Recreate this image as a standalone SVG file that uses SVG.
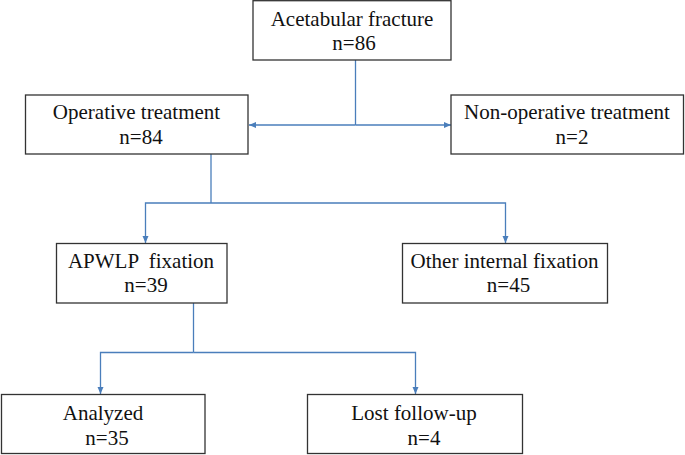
<svg xmlns="http://www.w3.org/2000/svg" width="685" height="455" viewBox="0 0 685 455">
<style>
.box{fill:#fff;stroke:#333;stroke-width:1.3}
.t{font-family:"Liberation Serif","Times New Roman",serif;font-size:21px;fill:#111;text-anchor:middle}
.c{fill:none;stroke:#4a7ebb;stroke-width:1.3}
</style>
<defs>
<marker id="ah" markerUnits="userSpaceOnUse" markerWidth="8" markerHeight="8" refX="7" refY="4" orient="auto">
<path d="M0,1 L7,4 L0,7 Z" fill="#4a7ebb"/>
</marker>
</defs>
<rect width="685" height="455" fill="#fff"/>
<g id="connectors">
<path class="c" d="M355.5,60 V125"/>
<path class="c" d="M355.5,125 H249" marker-end="url(#ah)"/>
<path class="c" d="M355.5,125 H451" marker-end="url(#ah)"/>
<path class="c" d="M211,154 V203"/>
<path class="c" d="M211,203 H145.5 V243" marker-end="url(#ah)"/>
<path class="c" d="M211,203 H505.5 V243" marker-end="url(#ah)"/>
<path class="c" d="M193.5,303 V352.5"/>
<path class="c" d="M193.5,352.5 H100.5 V394" marker-end="url(#ah)"/>
<path class="c" d="M193.5,352.5 H415.5 V394" marker-end="url(#ah)"/>
</g>
<g id="acetabular">
<rect class="box" x="253" y="0.7" width="198" height="59.3"/>
<text class="t" x="352" y="26">Acetabular fracture</text>
<text class="t" x="354" y="50">n=86</text>
</g>
<g id="operative">
<rect class="box" x="25.5" y="95" width="222.5" height="59"/>
<text class="t" x="136.5" y="119">Operative treatment</text>
<text class="t" x="141" y="143.5">n=84</text>
</g>
<g id="nonoperative">
<rect class="box" x="451" y="95" width="232.5" height="59"/>
<text class="t" x="567" y="119">Non-operative treatment</text>
<text class="t" x="572" y="143.5">n=2</text>
</g>
<g id="apwlp">
<rect class="box" x="56.5" y="243.5" width="170.5" height="59.5"/>
<text class="t" x="141" y="268" xml:space="preserve">APWLP  fixation</text>
<text class="t" x="146" y="292">n=39</text>
</g>
<g id="other">
<rect class="box" x="402.5" y="243.5" width="205" height="59.5"/>
<text class="t" x="504.5" y="268">Other internal fixation</text>
<text class="t" x="508.5" y="292">n=45</text>
</g>
<g id="analyzed">
<rect class="box" x="1.5" y="394.5" width="203.5" height="59"/>
<text class="t" x="103" y="420">Analyzed</text>
<text class="t" x="107" y="445">n=35</text>
</g>
<g id="lost">
<rect class="box" x="307.5" y="394.5" width="215" height="59"/>
<text class="t" x="414" y="420">Lost follow-up</text>
<text class="t" x="424" y="445">n=4</text>
</g>
</svg>
